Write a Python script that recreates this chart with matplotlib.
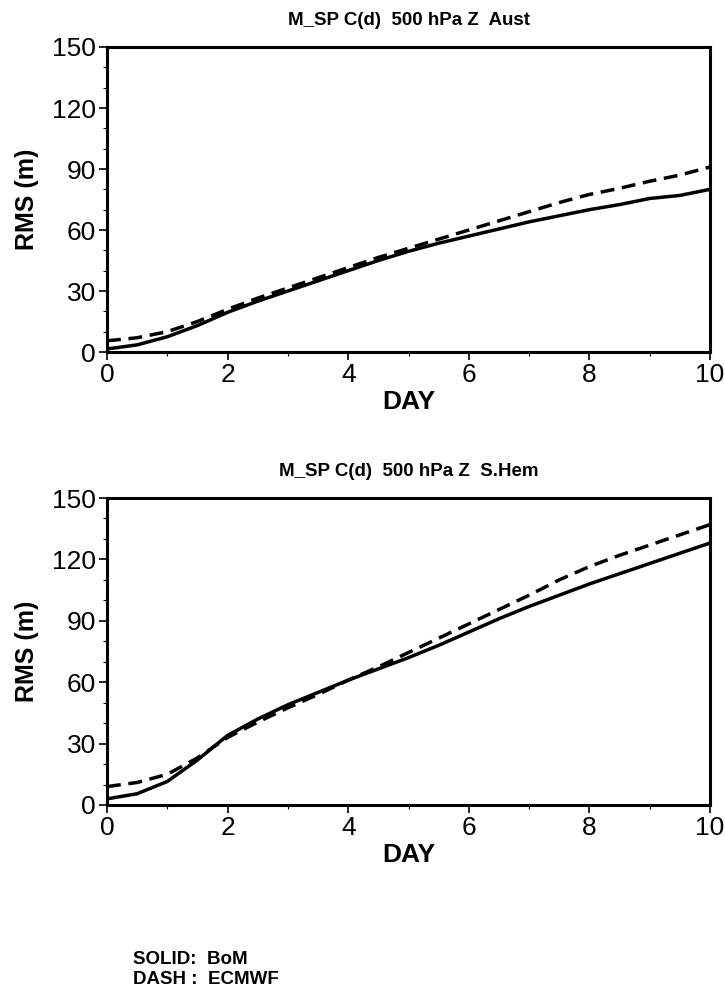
import matplotlib
matplotlib.use("Agg")
import matplotlib.pyplot as plt
import numpy as np
from matplotlib.ticker import MultipleLocator

plt.rcParams['font.family'] = ['Liberation Sans', 'DejaVu Sans']

days = [0, 0.5, 1, 1.5, 2, 2.5, 3, 3.5, 4, 4.5, 5, 5.5, 6, 6.5, 7, 7.5, 8, 8.5, 9, 9.5, 10]

aust_bom = [1.5, 3.5, 7.5, 13, 19.5, 25, 30, 35, 40, 45, 49.5, 53.5, 57, 60.5, 64, 67, 70, 72.5, 75.5, 77, 80]
aust_ecmwf = [5.5, 7, 10, 15, 21, 26.5, 31.5, 36.5, 41.5, 46.5, 51, 55.5, 60, 64.5, 69, 73.5, 77.5, 80.5, 84, 87, 91]

shem_bom = [3, 5.5, 11.5, 22, 34, 42, 49, 55, 61, 66.5, 72, 78, 84.5, 91, 97, 102.5, 108, 113, 118, 123, 128]
shem_ecmwf = [9, 11, 15, 23, 33, 40.5, 47.5, 54, 61, 67.5, 74.5, 81.5, 88.5, 95.5, 102.5, 110, 116.5, 122, 127, 132, 137]

titles = ["M_SP C(d)  500 hPa Z  Aust", "M_SP C(d)  500 hPa Z  S.Hem"]

fig = plt.figure(figsize=(7.25, 9.9), dpi=100)
W, H = 725.0, 990.0
boxes = [(107, 47, 710, 352), (107, 498, 710, 805)]
data = [(aust_bom, aust_ecmwf), (shem_bom, shem_ecmwf)]

for (x0, y0, x1, y1), (bom, ecm), title in zip(boxes, data, titles):
    ax = fig.add_axes([x0 / W, 1 - y1 / H, (x1 - x0) / W, (y1 - y0) / H])
    ax.plot(days, bom, color='black', lw=2.5, solid_capstyle='butt')
    ax.plot(days, ecm, color='black', lw=2.5, dashes=(4, 2.2))
    ax.set_xlim(0, 10)
    ax.set_ylim(0, 150)
    ax.xaxis.set_major_locator(MultipleLocator(2))
    ax.xaxis.set_minor_locator(MultipleLocator(1))
    ax.yaxis.set_major_locator(MultipleLocator(30))
    ax.yaxis.set_minor_locator(MultipleLocator(10))
    ax.tick_params(which='major', direction='out', length=6, width=1.2, labelsize=19, pad=2)
    ax.tick_params(which='minor', direction='out', length=3, width=0.8)
    for s in ax.spines.values():
        s.set_linewidth(2.2)
    ax.set_xlabel("DAY", fontsize=19, fontweight='bold', labelpad=2)
    ax.set_ylabel("RMS (m)", fontsize=18, fontweight='bold', labelpad=9)
    ax.set_title(title, fontsize=13.5, fontweight='bold', pad=16)

fig.text(133 / W, 1 - 959 / H, "SOLID:  BoM", fontsize=13.5, fontweight='bold', va='center')
fig.text(133 / W, 1 - 979 / H, "DASH :  ECMWF", fontsize=13.5, fontweight='bold', va='center')

fig.savefig("out.png", dpi=100)
